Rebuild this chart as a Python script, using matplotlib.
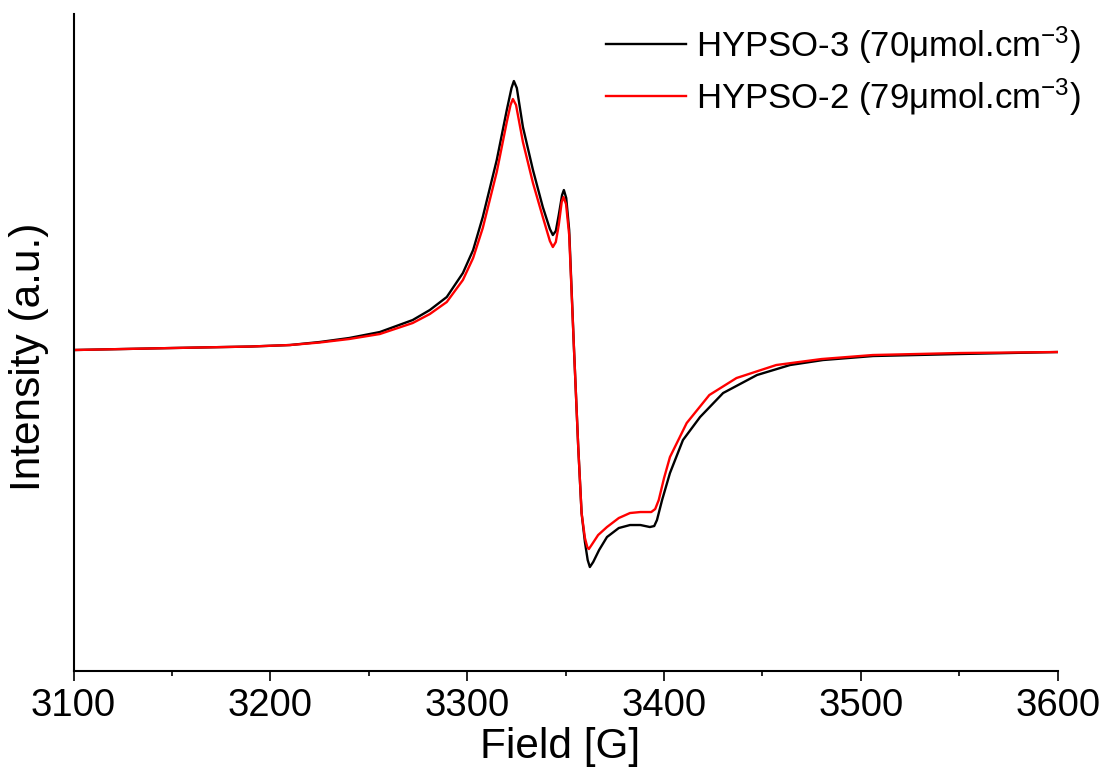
import matplotlib
matplotlib.use("Agg")
import matplotlib.pyplot as plt
from matplotlib.ticker import MultipleLocator

plt.rcParams['font.family'] = ['Liberation Sans', 'DejaVu Sans']
plt.rcParams['mathtext.fontset'] = 'custom'
plt.rcParams['mathtext.rm'] = 'Liberation Sans'
plt.rcParams['mathtext.it'] = 'Liberation Sans'

# field values [G] and intensities (a.u.)
field_h3 = [3100, 3150, 3190, 3210, 3225, 3240, 3255.6, 3272.3, 3281, 3289.6, 3297.8, 3303,
            3307.9, 3315, 3320.1, 3322.5, 3323.7, 3325.2, 3328.3, 3333.4, 3338.4,
            3342, 3343.5, 3345, 3346.5, 3348.2, 3349.1, 3350.3, 3351.8, 3354.2,
            3356.4, 3358.1, 3359.8, 3361.2, 3362.3, 3364, 3367, 3371, 3377, 3382.7,
            3388, 3392.8, 3395, 3396.4, 3399, 3403, 3409.6, 3418.3, 3430, 3447.2,
            3464, 3480.8, 3506.2, 3550, 3600]
int_h3 = [0, 2, 3.5, 5, 8, 12, 18, 30, 40, 53, 77, 100,
          133, 190, 240, 262, 269, 262, 223, 180, 143,
          121, 115, 119, 135, 155, 160, 152, 120, 3,
          -97, -163, -192, -210, -217, -212, -200, -187, -178, -175,
          -175, -177, -176, -170, -150, -123, -90, -67, -43, -25,
          -15, -10, -6, -4, -2]

field_h2 = [3100, 3150, 3190, 3210, 3225, 3240, 3255.6, 3272.3, 3281, 3289.6, 3297.8, 3303,
            3307.9, 3315, 3320.1, 3322, 3323.2, 3324.8, 3328.3, 3333.4, 3338.4,
            3342, 3343.5, 3345, 3346.5, 3348, 3348.9, 3350.2, 3351.8, 3354.2,
            3356.4, 3358.1, 3359.8, 3361, 3361.8, 3363.5, 3366.5, 3371, 3377, 3382.7,
            3388, 3393.5, 3395.5, 3397.3, 3400, 3403, 3411.5, 3423, 3436.8, 3457,
            3480, 3506, 3550, 3600]
int_h2 = [0, 2, 3.5, 5, 7.5, 11, 16, 27, 36, 48, 70, 92,
          122, 178, 228, 245, 251, 245, 208, 167, 133,
          109, 103, 108, 125, 148, 153, 146, 115, 3,
          -97, -163, -188, -197, -199, -194, -185, -177, -168, -163,
          -162, -162, -159, -150, -128, -107, -73, -45, -28, -15,
          -9, -5, -3, -2]

label_h3 = r'HYPSO-3 (70μmol.cm$^{-3}$)'
label_h2 = r'HYPSO-2 (79μmol.cm$^{-3}$)'

fig = plt.figure(figsize=(11.01, 7.79), dpi=100)
ax = fig.add_axes([0.0668, 0.1386, 0.8939, 0.8434])

ax.plot(field_h3, int_h3, color='black', lw=1.7, label=label_h3)
ax.plot(field_h2, int_h2, color='red', lw=1.7, label=label_h2)

ax.set_xlim(3100, 3600)
ax.set_ylim(-321, 336)
ax.xaxis.set_major_locator(MultipleLocator(100))
ax.xaxis.set_minor_locator(MultipleLocator(50))
ax.set_yticks([])

for s in ['top', 'right']:
    ax.spines[s].set_visible(False)
for s in ['left', 'bottom']:
    ax.spines[s].set_linewidth(1.5)

ax.tick_params(axis='x', which='major', direction='out', length=7, width=1.2,
               labelsize=27.5, pad=5)
ax.tick_params(axis='x', which='minor', direction='out', length=3.6, width=1.2)

ax.set_xlabel('Field [G]', fontsize=30.5, labelpad=0)
ax.set_ylabel('Intensity (a.u.)', fontsize=30.5)
ax.yaxis.set_label_coords(-0.025, 0.478)
ax.xaxis.set_label_coords(0.494, -0.085)

ax.legend(loc='upper right', frameon=False, fontsize=25, handlelength=2.3,
          handletextpad=0.3, labelspacing=0.3, borderaxespad=0.2,
          bbox_to_anchor=(1.045, 1.016))

fig.savefig('out.png', dpi=100)
